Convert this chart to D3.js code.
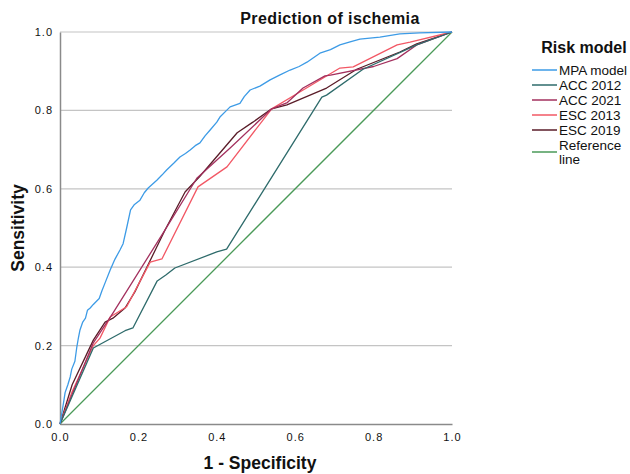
<!DOCTYPE html>
<html>
<head>
<meta charset="utf-8">
<script src="https://cdn.jsdelivr.net/npm/d3@7"></script>
<style>
  body { margin: 0; background: #fff; }
  svg text { font-family: "Liberation Sans", Arial, sans-serif; fill: #111; }
</style>
</head>
<body>
<svg id="chart" width="630" height="474"></svg>
<script>
// ROC points [1 - specificity, sensitivity]
var mpaModel = [[0,0],[0.005,0.03],[0.01,0.06],[0.013,0.08],[0.02,0.1],[0.026,0.12],[0.03,0.14],[0.038,0.16],[0.043,0.197],[0.047,0.22],[0.051,0.24],[0.058,0.26],[0.065,0.27],[0.07,0.29],[0.077,0.296],[0.085,0.305],[0.1,0.32],[0.107,0.34],[0.115,0.36],[0.128,0.393],[0.14,0.42],[0.153,0.444],[0.161,0.46],[0.17,0.5],[0.18,0.546],[0.19,0.56],[0.204,0.571],[0.215,0.59],[0.225,0.602],[0.247,0.622],[0.26,0.635],[0.272,0.648],[0.29,0.665],[0.306,0.681],[0.32,0.69],[0.332,0.699],[0.345,0.71],[0.357,0.717],[0.37,0.735],[0.383,0.75],[0.4,0.77],[0.408,0.783],[0.425,0.8],[0.434,0.809],[0.459,0.818],[0.47,0.835],[0.485,0.852],[0.51,0.862],[0.536,0.878],[0.56,0.89],[0.587,0.903],[0.61,0.912],[0.63,0.923],[0.663,0.946],[0.69,0.955],[0.714,0.967],[0.74,0.975],[0.765,0.982],[0.816,0.987],[0.867,0.995],[0.918,0.998],[1,1]];
var acc2012 = [[0,0],[0.085,0.194],[0.166,0.238],[0.186,0.245],[0.248,0.365],[0.27,0.38],[0.293,0.398],[0.4,0.439],[0.425,0.446],[0.668,0.834],[0.68,0.839],[0.773,0.905],[0.91,0.967],[1,1]];
var acc2021 = [[0,0],[0.085,0.207],[0.135,0.283],[0.268,0.495],[0.349,0.627],[0.434,0.704],[0.54,0.804],[0.58,0.82],[0.62,0.857],[0.676,0.888],[0.69,0.89],[0.8,0.912],[0.86,0.932],[0.91,0.967],[1,1]];
var esc2013 = [[0,0],[0.03,0.08],[0.085,0.2],[0.102,0.219],[0.128,0.273],[0.17,0.299],[0.23,0.413],[0.26,0.421],[0.352,0.605],[0.426,0.656],[0.54,0.804],[0.6,0.84],[0.714,0.908],[0.748,0.911],[0.86,0.967],[0.893,0.974],[1,1]];
var esc2019 = [[0,0],[0.031,0.1],[0.085,0.214],[0.115,0.26],[0.135,0.27],[0.166,0.296],[0.191,0.337],[0.268,0.495],[0.319,0.592],[0.357,0.632],[0.452,0.743],[0.492,0.77],[0.54,0.804],[0.579,0.814],[0.68,0.857],[0.757,0.905],[0.867,0.949],[0.91,0.97],[1,1]];
var refLine = [[0,0],[1,1]];

var seriesNames = ["MPA model", "ACC 2012", "ACC 2021", "ESC 2013", "ESC 2019", "Reference line"];
var seriesData = [mpaModel, acc2012, acc2021, esc2013, esc2019, refLine];
var couleurs = ["#3d9be6", "#2e6b6b", "#a3305e", "#f25865", "#5a1c28", "#4a9a58"];
var xTicks = [0, 0.2, 0.4, 0.6, 0.8, 1.0];
var yTicks = [0, 0.2, 0.4, 0.6, 0.8, 1.0];

(function() {
    var svg = d3.select("#chart"),
        pLeft = 60, pRight = 452, pTop = 32, pBottom = 424;

    var x = d3.scaleLinear().domain([0, 1]).range([pLeft, pRight]);
    var y = d3.scaleLinear().domain([0, 1]).range([pBottom, pTop]);

    // gridlines
    svg.append("g").selectAll("line")
        .data(yTicks.filter(function(d) { return d > 0; }))
        .enter().append("line")
        .attr("x1", pLeft).attr("x2", pRight)
        .attr("y1", function(d) { return y(d); })
        .attr("y2", function(d) { return y(d); })
        .attr("stroke", "#c4c4c4").attr("stroke-width", 1.2);

    // axes
    var xAxis = svg.append("g")
        .attr("transform", "translate(0," + pBottom + ")")
        .call(d3.axisBottom(x).tickValues(xTicks).tickFormat(d3.format(".1f")).tickSize(0).tickPadding(9));
    var yAxis = svg.append("g")
        .attr("transform", "translate(" + pLeft + ",0)")
        .call(d3.axisLeft(y).tickValues(yTicks).tickFormat(d3.format(".1f")).tickSize(0).tickPadding(7));
    [xAxis, yAxis].forEach(function(a) {
        a.select(".domain").attr("stroke", "#8a8a8a").attr("stroke-width", 1.5);
        a.selectAll("text").attr("font-size", 11).style("letter-spacing", "1px").attr("fill", "#222");
    });

    // courbes
    var line = d3.line()
        .x(function(d) { return x(d[0]); })
        .y(function(d) { return y(d[1]); });

    svg.append("g").selectAll("path")
        .data(seriesData.slice().reverse())
        .enter().append("path")
        .attr("d", line)
        .attr("fill", "none")
        .attr("stroke", function(d, i) { return couleurs[seriesData.length - 1 - i]; })
        .attr("stroke-width", 1.3)
        .attr("stroke-linejoin", "round");

    // titres
    svg.append("text").attr("x", 330).attr("y", 24).attr("text-anchor", "middle")
        .attr("font-size", 16).attr("font-weight", "bold").style("letter-spacing", "0.4px")
        .text("Prediction of ischemia");
    svg.append("text").attr("x", 260).attr("y", 469).attr("text-anchor", "middle")
        .attr("font-size", 17.5).attr("font-weight", "bold").text("1 - Specificity");
    svg.append("text").attr("transform", "translate(24,228) rotate(-90)").attr("text-anchor", "middle")
        .attr("font-size", 17.5).attr("font-weight", "bold").text("Sensitivity");

    // légende
    var legend = svg.append("g");
    legend.append("text").attr("x", 584).attr("y", 53).attr("text-anchor", "middle")
        .attr("font-size", 16).attr("font-weight", "bold").text("Risk model");
    var rows = [70, 85, 100, 115, 130, 152];
    seriesNames.forEach(function(nom, i) {
        legend.append("line")
            .attr("x1", 532).attr("x2", 557)
            .attr("y1", rows[i]).attr("y2", rows[i])
            .attr("stroke", couleurs[i]).attr("stroke-width", 1.5);
        if (i < 5) {
            legend.append("text").attr("x", 559).attr("y", rows[i] + 4.5)
                .attr("font-size", 13.5).text(nom);
        } else {
            legend.append("text").attr("x", 559).attr("y", rows[i] - 2)
                .attr("font-size", 13.5).text("Reference");
            legend.append("text").attr("x", 559).attr("y", rows[i] + 12)
                .attr("font-size", 13.5).text("line");
        }
    });
})();
</script>
</body>
</html>
